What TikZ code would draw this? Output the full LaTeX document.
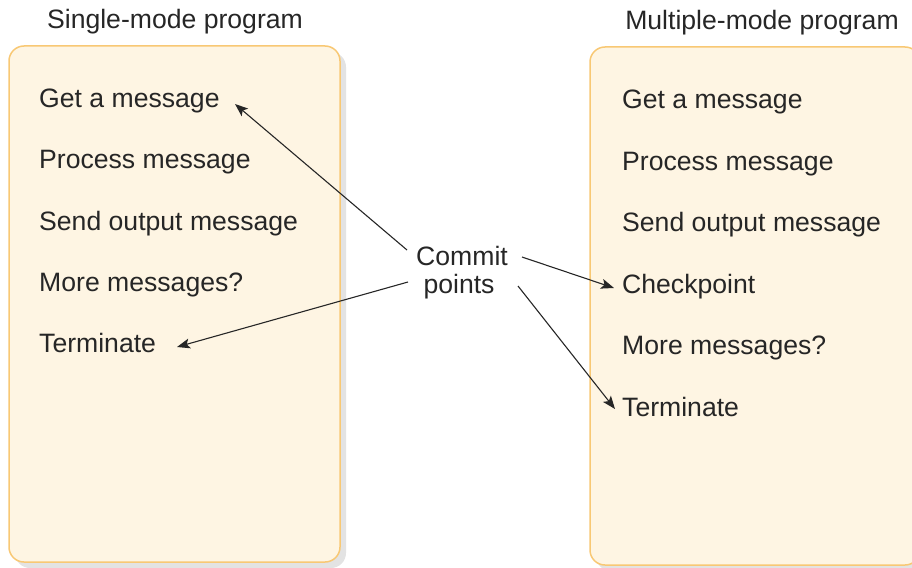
\documentclass[tikz,border=0pt]{standalone}
\usepackage{fontspec}
\setmainfont{Liberation Sans}
\usetikzlibrary{arrows.meta}
\definecolor{boxfill}{HTML}{FEF5E3}
\definecolor{boxline}{HTML}{F8C874}
\definecolor{shadowc}{HTML}{E3E3E3}
\definecolor{txt}{HTML}{262626}
\tikzset{
  progbox/.style={draw=boxline, fill=boxfill, line width=1.5pt, rounded corners=15pt},
  shadowbox/.style={fill=shadowc, rounded corners=15pt},
  item/.style={anchor=base west, inner sep=0pt, text=txt, font=\fontsize{26.6}{30}\selectfont},
  title/.style={anchor=base, inner sep=0pt, text=txt, font=\fontsize{26.6}{30}\selectfont},
  conn/.style={draw=txt, line width=1.1pt, -{Stealth[length=13pt,width=10pt,inset=3pt]}}
}
\begin{document}
\begin{tikzpicture}[x=1pt,y=-1pt]
\useasboundingbox (0,0) rectangle (912,567);
% left box
\fill[shadowbox] (15,52) rectangle (346,568);
\draw[progbox] (9,46) rectangle (340,562);
% right box
\fill[shadowbox] (596,53) rectangle (926,571);
\draw[progbox] (590,47) rectangle (920,565);

\node[title] (t1) at (175,28.5) {Single-mode program};
\node[title] (t2) at (762,29.5) {Multiple-mode program};

\node[item] (l1) at (39,107) {Get a message};
\node[item] (l2) at (39,168.5) {Process message};
\node[item] (l3) at (39,230) {Send output message};
\node[item] (l4) at (39,291.5) {More messages?};
\node[item] (l5) at (39,352.5) {Terminate};

\node[item] (r1) at (622,108.5) {Get a message};
\node[item] (r2) at (622,170) {Process message};
\node[item] (r3) at (622,231.5) {Send output message};
\node[item] (r4) at (622,293) {Checkpoint};
\node[item] (r5) at (622,354.5) {More messages?};
\node[item] (r6) at (622,416) {Terminate};

\node[title] (cp1) at (462,265) {Commit};
\node[title] (cp2) at (459,293) {points};

\coordinate (s1) at (407,250);
\coordinate (s2) at (408,282);
\coordinate (s3) at (522,257);
\coordinate (s4) at (518,286);
\coordinate (e1) at (235,104);
\coordinate (e2) at (177,347);
\coordinate (e3) at (614,288);
\coordinate (e4) at (615,409);

\draw[conn] (s1) -- (e1);
\draw[conn] (s2) -- (e2);
\draw[conn] (s3) -- (e3);
\draw[conn] (s4) -- (e4);
\end{tikzpicture}
\end{document}
